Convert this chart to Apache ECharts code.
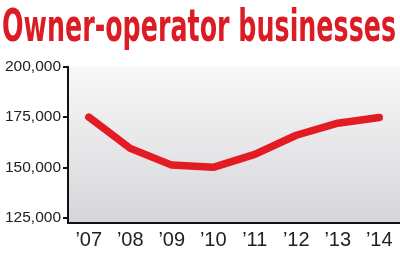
<!DOCTYPE html>
<html>
<head>
<meta charset="utf-8">
<script src="https://cdn.jsdelivr.net/npm/echarts@6/dist/echarts.min.js"></script>
<style>
html,body{margin:0;padding:0;background:#fff;}
#chart{width:400px;height:253px;}
</style>
</head>
<body>
<div id="chart"></div>
<script>
var titleText = 'Owner-operator businesses';
var years = ['\u201907', '\u201908', '\u201909', '\u201910', '\u201911', '\u201912', '\u201913', '\u201914'];
var businesses = [175000, 159500, 151200, 150100, 156500, 166000, 172000, 174800];
var yTicks = [125000, 150000, 175000, 200000];

var titleFont = 'bold 44px "Liberation Sans Narrow", "DejaVu Sans Condensed", "Liberation Sans", sans-serif';
var ctx = document.createElement('canvas').getContext('2d');
ctx.font = titleFont;
var tw = ctx.measureText(titleText).width;
var sx = 394 / tw;

var chart = echarts.init(document.getElementById('chart'), null, {renderer: 'canvas'});
chart.setOption({
  animation: false,
  backgroundColor: '#fff',
  grid: {
    left: 68, right: 0, top: 66.7, bottom: 30,
    show: true, borderWidth: 0,
    backgroundColor: {
      type: 'linear', x: 0, y: 0, x2: 0, y2: 1,
      colorStops: [{offset: 0, color: '#f8f8f8'}, {offset: 1, color: '#d6d6da'}]
    }
  },
  graphic: [{
    type: 'text', x: 2, y: 30, scaleX: sx, originX: 0, originY: 0,
    style: {text: titleText, font: titleFont, fill: '#dc1c24', verticalAlign: 'middle', align: 'left'}
  }],
  xAxis: {
    type: 'category', data: years, boundaryGap: true,
    axisLine: {lineStyle: {color: '#111', width: 2}},
    axisTick: {inside: true, length: 4, alignWithLabel: true, lineStyle: {color: '#111', width: 1.5}},
    axisLabel: {color: '#222', fontSize: 20, fontFamily: '"Liberation Sans Narrow", "Liberation Sans", sans-serif', margin: 7}
  },
  yAxis: {
    type: 'value', min: 122500, max: 200000,
    splitLine: {show: false},
    axisLine: {show: true, lineStyle: {color: '#111', width: 2}},
    axisTick: {show: true, length: 5, customValues: yTicks, lineStyle: {color: '#111', width: 2}},
    axisLabel: {
      customValues: yTicks, color: '#222', fontSize: 15.5, margin: 7,
      fontFamily: '"Liberation Sans", sans-serif',
      formatter: function (v) { return v.toLocaleString('en-US'); }
    }
  },
  series: [{
    type: 'line', data: businesses, showSymbol: false, symbol: 'none',
    lineStyle: {color: '#e31b23', width: 7.5, cap: 'round', join: 'round'}
  }]
});
</script>
</body>
</html>
